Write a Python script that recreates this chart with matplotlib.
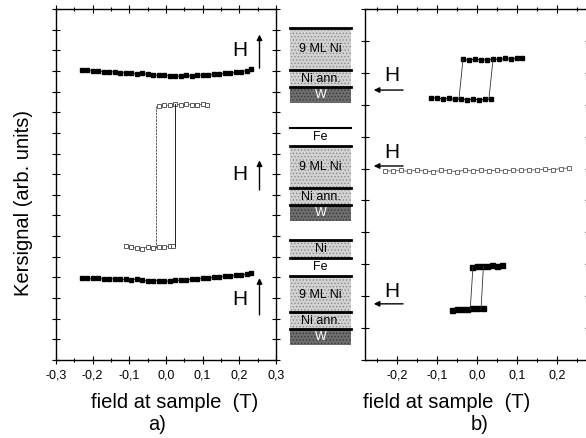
import matplotlib
matplotlib.use('Agg')
import matplotlib.pyplot as plt
from matplotlib.patches import Rectangle
from matplotlib.ticker import MultipleLocator, FuncFormatter

plt.rcParams['font.family'] = ['Liberation Sans', 'DejaVu Sans']
plt.rcParams['hatch.linewidth'] = 0.6

# ---- panel a) : field along surface normal (arbitrary offsets) ----
a_top_x = [-0.23, -0.215, -0.2, -0.185, -0.17, -0.155, -0.14, -0.125, -0.11, -0.095, -0.08, -0.065,
           -0.05, -0.035, -0.02, -0.005, 0.01, 0.025, 0.04, 0.055, 0.07, 0.085, 0.1, 0.115,
           0.13, 0.145, 0.16, 0.175, 0.19, 0.205, 0.22, 0.232]
a_top_y = [14.05, 14.04, 14.01, 13.98, 13.97, 13.95, 13.96, 13.92, 13.9, 13.89, 13.86, 13.88,
           13.84, 13.82, 13.8, 13.79, 13.77, 13.76, 13.75, 13.78, 13.76, 13.79, 13.8, 13.82,
           13.84, 13.86, 13.88, 13.9, 13.93, 13.97, 14.02, 14.08]

a_bot_x = a_top_x
a_bot_y = [3.97, 3.96, 3.95, 3.96, 3.93, 3.92, 3.94, 3.91, 3.9, 3.88, 3.9, 3.87,
           3.85, 3.84, 3.85, 3.83, 3.82, 3.86, 3.87, 3.88, 3.9, 3.93, 3.95, 3.97,
           4.0, 4.03, 4.05, 4.08, 4.1, 4.13, 4.16, 4.2]

# open-square loop (Fe / 9 ML Ni)
a_loop_up_x = [-0.02, -0.005, 0.01, 0.025, 0.04, 0.055, 0.07, 0.085, 0.1, 0.112]
a_loop_up_y = [12.3, 12.35, 12.33, 12.38, 12.36, 12.4, 12.37, 12.35, 12.38, 12.36]
a_loop_dn_x = [-0.11, -0.095, -0.08, -0.065, -0.05, -0.035, -0.02, -0.005, 0.01, 0.02]
a_loop_dn_y = [5.5, 5.45, 5.42, 5.4, 5.47, 5.44, 5.48, 5.46, 5.5, 5.52]
a_coerc = [-0.028, 0.025]

# ---- panel b) : in-plane field ----
b_top_up_x = [-0.035, -0.02, -0.005, 0.01, 0.025, 0.04, 0.055, 0.07, 0.085, 0.1, 0.112]
b_top_up_y = [9.42, 9.4, 9.43, 9.41, 9.4, 9.44, 9.42, 9.45, 9.43, 9.45, 9.46]
b_top_dn_x = [-0.115, -0.1, -0.085, -0.07, -0.055, -0.04, -0.025, -0.01, 0.005, 0.02, 0.035]
b_top_dn_y = [8.2, 8.22, 8.18, 8.2, 8.17, 8.18, 8.16, 8.17, 8.16, 8.17, 8.18]
b_top_coerc_lo = [-0.045, 0.03]
b_top_coerc_hi = [-0.035, 0.04]

b_mid_x = [-0.23, -0.21, -0.19, -0.17, -0.15, -0.13, -0.11, -0.09, -0.07, -0.05, -0.03, -0.01,
           0.01, 0.03, 0.05, 0.07, 0.09, 0.11, 0.13, 0.15, 0.17, 0.19, 0.21, 0.23]
b_mid_y = [5.93, 5.92, 5.94, 5.91, 5.95, 5.92, 5.9, 5.94, 5.93, 5.9, 5.95, 5.92,
           5.96, 5.93, 5.95, 5.92, 5.96, 5.94, 5.97, 5.95, 5.98, 5.96, 6.0, 6.02]

b_bot_up_x = [-0.012, 0.0, 0.012, 0.025, 0.038, 0.05, 0.062]
b_bot_up_y = [2.93, 2.95, 2.96, 2.95, 2.97, 2.96, 2.98]
b_bot_dn_x = [-0.062, -0.05, -0.038, -0.025, -0.012, 0.0, 0.015]
b_bot_dn_y = [1.58, 1.6, 1.61, 1.6, 1.62, 1.63, 1.64]
b_bot_coerc_lo = [-0.017, 0.01]
b_bot_coerc_hi = [-0.01, 0.016]

# sample stacks (top layer first)
stacks = [
    ['9 ML Ni', 'Ni ann.', 'W'],
    ['Fe', '9 ML Ni', 'Ni ann.', 'W'],
    ['Ni', 'Fe', '9 ML Ni', 'Ni ann.', 'W'],
]


def comma(v, pos):
    s = '%.1f' % v
    if s == '-0.0':
        s = '0.0'
    return s.replace('.', ',')


def style(ax, ymax):
    ax.set_ylim(0, ymax)
    ax.xaxis.set_major_locator(MultipleLocator(0.1))
    ax.xaxis.set_minor_locator(MultipleLocator(0.05))
    ax.xaxis.set_major_formatter(FuncFormatter(comma))
    ax.yaxis.set_major_locator(MultipleLocator(1))
    ax.set_yticklabels([])
    ax.tick_params(which='both', direction='inout', top=True, right=True, labelsize=9, width=0.8)
    ax.tick_params(which='major', length=6)
    ax.tick_params(which='minor', length=3)
    for s in ax.spines.values():
        s.set_linewidth(1.0)


fig = plt.figure(figsize=(5.86, 4.38), dpi=100)

# ---------- panel a ----------
ax1 = fig.add_axes([56 / 586, 78 / 438, 220 / 586, 351 / 438])
ax1.set_xlim(-0.3, 0.3)
style(ax1, 17)
ax1.plot(a_top_x, a_top_y, 's-', color='black', ms=3.3, lw=0.5)
ax1.plot(a_bot_x, a_bot_y, 's-', color='black', ms=3.3, lw=0.5)
ax1.plot(a_loop_up_x, a_loop_up_y, 's-', color='#444444', mfc='white', mec='#444444', ms=3.5, mew=0.6, lw=0.5)
ax1.plot(a_loop_dn_x, a_loop_dn_y, 's-', color='#444444', mfc='white', mec='#444444', ms=3.5, mew=0.6, lw=0.5)
ax1.plot([a_coerc[0], a_coerc[0]], [a_loop_dn_y[5], a_loop_up_y[0]], color='#444444', lw=0.6, ls=(0, (3, 1)))
ax1.plot([a_coerc[1], a_coerc[1]], [a_loop_dn_y[-1], a_loop_up_y[3]], color='#222222', lw=0.7)

for hy, ay0, ay1 in [(15.0, 14.0, 15.9), (9.0, 8.1, 9.8), (2.95, 2.05, 4.1)]:
    ax1.text(0.2, hy, 'H', fontsize=15, ha='center', va='center')
    ax1.annotate('', xy=(0.255, ay1), xytext=(0.255, ay0),
                 arrowprops=dict(arrowstyle='-|>', color='black', lw=1.0, mutation_scale=8))

fig.text(24 / 586, 1 - 203 / 438, 'Kersignal (arb. units)', rotation=90, fontsize=14.5,
         ha='center', va='center')
fig.text(175 / 586, 1 - 402 / 438, 'field at sample  (T)', fontsize=14.5, ha='center', va='center')
fig.text(157 / 586, 1 - 425 / 438, 'a)', fontsize=14.5, ha='center', va='center')

# ---------- panel b ----------
ax2 = fig.add_axes([365 / 586, 78 / 438, 224 / 586, 351 / 438])
ax2.set_xlim(-0.28, 0.28)
style(ax2, 11)
ax2.plot(b_top_up_x, b_top_up_y, 's-', color='black', ms=3.3, lw=0.6)
ax2.plot(b_top_dn_x, b_top_dn_y, 's-', color='black', ms=3.3, lw=0.6)
for k in range(2):
    ax2.plot([b_top_coerc_lo[k], b_top_coerc_hi[k]], [b_top_dn_y[0], b_top_up_y[0]], color='#333333', lw=0.6)
ax2.plot(b_mid_x, b_mid_y, 's-', color='#555555', mfc='white', mec='#555555', ms=3.3, mew=0.6, lw=0.6)
ax2.plot(b_bot_up_x, b_bot_up_y, 's-', color='black', ms=3.6, lw=1.2)
ax2.plot(b_bot_dn_x, b_bot_dn_y, 's-', color='black', ms=3.6, lw=1.2)
for k in range(2):
    ax2.plot([b_bot_coerc_lo[k], b_bot_coerc_hi[k]], [b_bot_dn_y[0], b_bot_up_y[0]], color='#333333', lw=0.6)

for hy, ay in [(8.92, 8.46), (6.5, 6.08), (2.15, 1.76)]:
    ax2.text(-0.212, hy, 'H', fontsize=15, ha='center', va='center')
    ax2.annotate('', xy=(-0.265, ay), xytext=(-0.178, ay),
                 arrowprops=dict(arrowstyle='-|>', color='black', lw=1.0, mutation_scale=8))

fig.text(447 / 586, 1 - 402 / 438, 'field at sample  (T)', fontsize=14.5, ha='center', va='center')
fig.text(480 / 586, 1 - 425 / 438, 'b)', fontsize=14.5, ha='center', va='center')

# ---------- layer schematic ----------
axs = fig.add_axes([0, 0, 1, 1], zorder=-1)
axs.set_xlim(0, 586)
axs.set_ylim(438, 0)
axs.axis('off')

layer_h = {'9 ML Ni': 42, 'Ni ann.': 17, 'W': 16, 'Fe': 18, 'Ni': 18}
layer_fc = {'9 ML Ni': '#d2d2d2', 'Ni ann.': '#d2d2d2', 'W': '#6e6e6e', 'Fe': 'white', 'Ni': '#d2d2d2'}
layer_tc = {'W': 'white'}
stack_top = [28, 128, 240]
x0, w = 290, 61

for st, top in zip(stacks, stack_top):
    y = top
    for i, name in enumerate(st):
        h = layer_h[name]
        if name == '9 ML Ni' and len(st) == 5:
            h = 36
        fc = layer_fc[name]
        hatch = None if fc == 'white' else '.....'
        ec = '#8c8c8c' if name != 'W' else '#3a3a3a'
        axs.add_patch(Rectangle((x0, y), w, h, facecolor=fc, edgecolor=ec, hatch=hatch, linewidth=0))
        axs.plot([x0, x0 + w], [y, y], color='black', lw=2.0 if i > 0 or name != 'Fe' else 1.5)
        axs.text(x0 + w / 2, y + h / 2 + 0.5, name, fontsize=9, ha='center', va='center',
                 color=layer_tc.get(name, 'black'))
        y += h

fig.savefig('out.png', dpi=100)
